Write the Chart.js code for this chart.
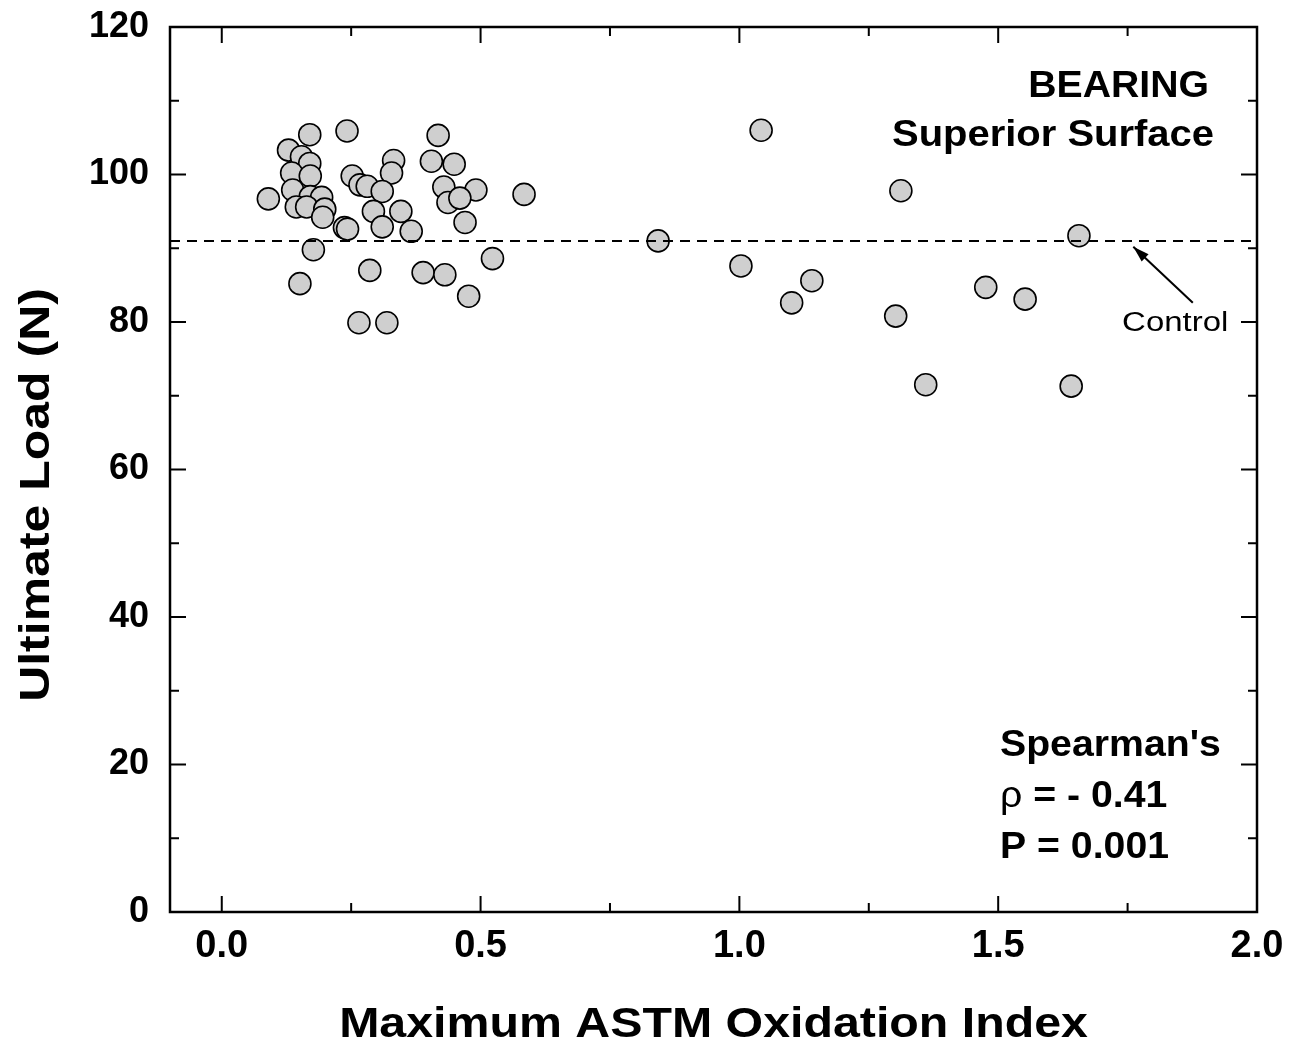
<!DOCTYPE html>
<html>
<head>
<meta charset="utf-8">
<script src="https://cdn.jsdelivr.net/npm/chart.js@4.4.1/dist/chart.umd.min.js"></script>
<style>
  html, body { margin: 0; padding: 0; background: #fff; }
  #wrap { width: 1305px; height: 1048px; }
</style>
</head>
<body>
<div id="wrap"><canvas id="c"></canvas></div>
<script>
// oxidation index vs ultimate load
const oxIndex = [
  0.170, 0.242, 0.418, 0.129, 0.154, 0.170, 0.332, 0.405, 0.449, 0.135,
  0.171, 0.252, 0.328, 0.267, 0.281, 0.310, 0.429, 0.491, 0.584, 0.090,
  0.137, 0.171, 0.144, 0.193, 0.164, 0.199, 0.195, 0.437, 0.460, 0.293,
  0.346, 0.470, 0.237, 0.243, 0.310, 0.366, 0.177, 0.523, 0.286, 0.389,
  0.431, 0.151, 0.477, 0.265, 0.319,
  0.843, 1.042, 1.003, 1.101, 1.140, 1.312, 1.302, 1.360, 1.476, 1.552,
  1.641, 1.656
];
const ultLoad = [
  105.4, 105.9, 105.3, 103.3, 102.4, 101.5, 101.9, 101.8, 101.4, 100.2,
  99.8, 99.8, 100.2, 98.6, 98.4, 97.7, 98.3, 97.9, 97.3, 96.7,
  97.9, 97.0, 95.6, 96.9, 95.6, 95.3, 94.2, 96.2, 96.8, 95.0,
  95.0, 93.5, 92.8, 92.6, 92.9, 92.3, 89.8, 88.6, 87.0, 86.7,
  86.4, 85.2, 83.5, 79.9, 79.9,
  91.0, 106.0, 87.6, 82.6, 85.6, 97.8, 80.8, 71.5, 84.7, 83.1,
  71.3, 91.7
];
const controlLoad = 91.0;
const xRange = [-0.1, 2.0];
const yRange = [0, 120];
const xTickVals = [0, 0.5, 1.0, 1.5, 2.0];
const xMinorVals = [0.25, 0.75, 1.25, 1.75];
const yTickVals = [0, 20, 40, 60, 80, 100, 120];
const yMinorVals = [10, 30, 50, 70, 90, 110];

const points = oxIndex.map((x, i) => ({ x, y: ultLoad[i] }));

const sans = '"Liberation Sans", Arial, sans-serif';

// the source figure's text is a little wider than Arial, so widen it
function wideText(ctx, text, x, y, sx, align) {
  ctx.save();
  ctx.translate(x, y);
  ctx.scale(sx, 1);
  ctx.textAlign = align;
  ctx.fillText(text, 0, 0);
  ctx.restore();
}

const framePlugin = {
  id: 'frame',
  afterDraw(chart) {
    const { ctx, chartArea: a, scales } = chart;
    const xs = scales.x, ys = scales.y;
    ctx.save();
    ctx.strokeStyle = '#000';
    ctx.lineWidth = 2.5;
    ctx.strokeRect(a.left, a.top, a.right - a.left, a.bottom - a.top);

    ctx.lineWidth = 2;
    ctx.beginPath();
    const tickX = (v, len) => {
      const p = xs.getPixelForValue(v);
      ctx.moveTo(p, a.bottom); ctx.lineTo(p, a.bottom - len);
      ctx.moveTo(p, a.top); ctx.lineTo(p, a.top + len);
    };
    const tickY = (v, len) => {
      const p = ys.getPixelForValue(v);
      ctx.moveTo(a.left, p); ctx.lineTo(a.left + len, p);
      ctx.moveTo(a.right, p); ctx.lineTo(a.right - len, p);
    };
    xTickVals.forEach(v => tickX(v, 16));
    xMinorVals.forEach(v => tickX(v, 9));
    yTickVals.forEach(v => tickY(v, 16));
    yMinorVals.forEach(v => tickY(v, 9));
    ctx.stroke();

    // axis titles
    ctx.fillStyle = '#000';
    ctx.textBaseline = 'middle';
    ctx.font = 'bold 42px ' + sans;
    wideText(ctx, 'Maximum ASTM Oxidation Index', (a.left + a.right) / 2, 1025, 1.15, 'center');
    ctx.save();
    ctx.translate(37, 495);
    ctx.rotate(-Math.PI / 2);
    wideText(ctx, 'Ultimate Load (N)', 0, 0, 1.19, 'center');
    ctx.restore();

    // labels inside the plot
    const sx = 1.06;
    ctx.font = 'bold 37px ' + sans;
    wideText(ctx, 'BEARING', 1209, 87, sx, 'right');
    wideText(ctx, 'Superior Surface', 1214, 136, 1.08, 'right');
    wideText(ctx, "Spearman's", 1000, 746, sx, 'left');
    // rho is set in a plain (non-bold) face in the original
    ctx.font = '37px ' + sans;
    wideText(ctx, '\u03c1', 1000, 797, sx, 'left');
    const rhoW = ctx.measureText('\u03c1').width * sx;
    ctx.font = 'bold 37px ' + sans;
    wideText(ctx, ' = - 0.41', 1000 + rhoW, 797, sx, 'left');
    wideText(ctx, 'P = 0.001', 1000, 848, sx, 'left');

    // control label + arrow
    ctx.font = '27px ' + sans;
    wideText(ctx, 'Control', xs.getPixelForValue(1.842), ys.getPixelForValue(79.8), 1.22, 'center');
    const x0 = xs.getPixelForValue(1.876), y0 = ys.getPixelForValue(82.6);
    const x1 = xs.getPixelForValue(1.761), y1 = ys.getPixelForValue(90.2);
    ctx.lineWidth = 2;
    ctx.beginPath();
    ctx.moveTo(x0, y0);
    ctx.lineTo(x1, y1);
    ctx.stroke();
    const ang = Math.atan2(y1 - y0, x1 - x0);
    ctx.beginPath();
    ctx.moveTo(x1, y1);
    ctx.lineTo(x1 - 17 * Math.cos(ang - 0.3), y1 - 17 * Math.sin(ang - 0.3));
    ctx.lineTo(x1 - 17 * Math.cos(ang + 0.3), y1 - 17 * Math.sin(ang + 0.3));
    ctx.closePath();
    ctx.fill();
    ctx.restore();
  }
};

new Chart(document.getElementById('c'), {
  type: 'scatter',
  data: {
    datasets: [
      {
        type: 'line',
        data: [{ x: xRange[0], y: controlLoad }, { x: xRange[1], y: controlLoad }],
        borderColor: '#000',
        borderWidth: 2,
        borderDash: [10, 7],
        pointRadius: 0,
        order: 0
      },
      {
        data: points,
        backgroundColor: '#cfcfcf',
        borderColor: '#000',
        borderWidth: 1.6,
        pointRadius: 11,
        pointHoverRadius: 11,
        order: 1
      }
    ]
  },
  options: {
    responsive: true,
    maintainAspectRatio: false,
    animation: false,
    events: [],
    layout: { padding: { top: 27, right: 48, left: 0, bottom: 0 } },
    plugins: { legend: { display: false }, tooltip: { enabled: false } },
    scales: {
      x: {
        type: 'linear',
        min: xRange[0],
        max: xRange[1],
        grid: { display: false, drawTicks: false },
        border: { display: false },
        afterFit: s => { s.height = 136; s.paddingLeft = 0; s.paddingRight = 0; },
        afterBuildTicks: s => { s.ticks = xTickVals.map(v => ({ value: v })); },
        ticks: {
          padding: 12,
          color: '#000',
          font: { family: sans, size: 38, weight: 'bold' },
          callback: v => Number(v).toFixed(1)
        }
      },
      y: {
        min: yRange[0],
        max: yRange[1],
        grid: { display: false, drawTicks: false },
        border: { display: false },
        afterFit: s => { s.width = 170; s.paddingTop = 0; s.paddingBottom = 0; },
        afterBuildTicks: s => { s.ticks = yTickVals.map(v => ({ value: v })); },
        ticks: {
          padding: 21,
          color: '#000',
          font: { family: sans, size: 36, weight: 'bold' }
        }
      }
    }
  },
  plugins: [framePlugin]
});
</script>
</body>
</html>
